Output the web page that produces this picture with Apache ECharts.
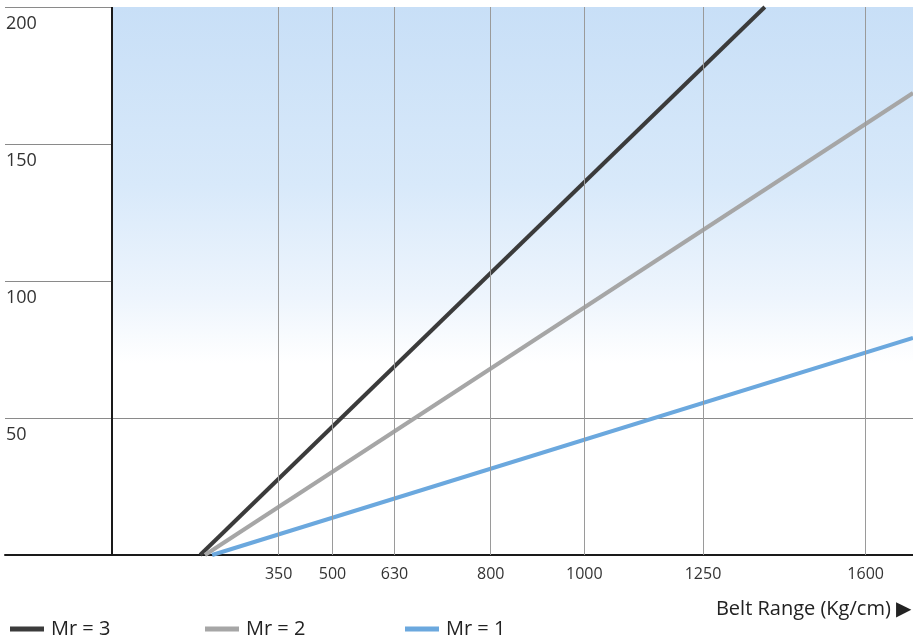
<!DOCTYPE html>
<html>
<head>
<meta charset="utf-8">
<style>
  html, body { margin: 0; padding: 0; background: #ffffff; }
  #chart { width: 913px; height: 637px; }
</style>
<script src="https://cdn.jsdelivr.net/npm/echarts@6/dist/echarts.min.js"></script>
</head>
<body>
<div id="chart"></div>
<script>
// Schematic x-axis: positions in arbitrary units (0 = vertical axis, 100 = right edge)
var xTickPositions = [20.81, 27.53, 35.27, 47.28, 58.96, 73.78, 94.09];
var xTickLabels = ['350', '500', '630', '800', '1000', '1250', '1600'];
var yTicks = [0, 50, 100, 150, 200];

var seriesNames = ['Mr = 3', 'Mr = 2', 'Mr = 1'];
var mr3 = [[11.0, 0], [81.5, 200]];
var mr2 = [[11.6, 0], [100, 168.6]];
var mr1 = [[12.5, 0], [100, 79.2]];

var FONT = '"Open Sans", "Noto Sans", sans-serif';
var chart = echarts.init(document.getElementById('chart'), null, { renderer: 'canvas' });

function legendAt(name, left) {
  return {
    data: [name], left: left, top: 614, icon: 'rect', itemWidth: 34, itemHeight: 5,
    itemGap: 0, textStyle: { fontFamily: FONT, fontSize: 20, color: '#222', padding: [0, 0, 0, 2] },
    selectedMode: false
  };
}

var option = {
  backgroundColor: '#ffffff',
  animation: false,
  title: {
    text: 'Belt Range (Kg/cm) \u25B6\uFE0E',
    right: -3, top: 594,
    textStyle: { fontFamily: FONT, fontSize: 20, fontWeight: 'normal', color: '#222' }
  },
  legend: [legendAt(seriesNames[0], 5), legendAt(seriesNames[1], 200), legendAt(seriesNames[2], 400)],
  grid: { left: 5, right: 0, top: 7, bottom: 82, containLabel: false },
  xAxis: {
    type: 'value', min: -13.36, max: 100,
    axisLine: { show: true, onZero: true, lineStyle: { color: '#1a1a1a', width: 2 } },
    axisTick: { show: false },
    splitLine: { show: false },
    axisLabel: {
      customValues: xTickPositions,
      margin: 11,
      fontFamily: FONT, fontSize: 16, color: '#333',
      formatter: function (v) {
        for (var i = 0; i < xTickPositions.length; i++) {
          if (Math.abs(xTickPositions[i] - v) < 1e-6) return xTickLabels[i];
        }
        return '';
      }
    }
  },
  yAxis: {
    type: 'value', min: 0, max: 200, interval: 50,
    axisLine: { show: false }, axisTick: { show: false },
    splitLine: { show: true, lineStyle: { color: '#8a8a8a', width: 1 } },
    axisLabel: {
      inside: true, margin: 1, verticalAlign: 'top', padding: [8, 0, 0, 0],
      fontFamily: FONT, fontSize: 18, color: '#333',
      formatter: function (v) { return v === yTicks[0] ? '' : String(v); }
    }
  },
  series: [
    {
      name: 'bg', type: 'line', z: -1, data: [], silent: true, showSymbol: false,
      markArea: {
        silent: true,
        itemStyle: {
          color: {
            type: 'linear', x: 0, y: 0, x2: 0, y2: 1,
            colorStops: [
              { offset: 0, color: '#c8dff7' },
              { offset: 0.5, color: '#d8e9fa' },
              { offset: 0.82, color: '#eef5fd' },
              { offset: 1, color: '#ffffff' }
            ]
          }
        },
        data: [[{ xAxis: 0, yAxis: 70 }, { xAxis: 100, yAxis: 200 }]]
      }
    },
    {
      name: 'vgrid', type: 'line', z: 1, data: [], silent: true, showSymbol: false,
      markLine: {
        silent: true, symbol: ['none', 'none'], label: { show: false },
        lineStyle: { color: '#9a9a9a', width: 1, type: 'solid' },
        data: xTickPositions.map(function (p) { return { xAxis: p }; }).concat([
          { xAxis: 0, lineStyle: { color: '#1a1a1a', width: 2, type: 'solid' } }
        ])
      }
    },
    { name: seriesNames[0], type: 'line', z: 3, data: mr3, showSymbol: false, color: '#3b3b3b', lineStyle: { width: 4, color: '#3b3b3b' } },
    { name: seriesNames[1], type: 'line', z: 3, data: mr2, showSymbol: false, color: '#a6a6a6', lineStyle: { width: 4, color: '#a6a6a6' } },
    { name: seriesNames[2], type: 'line', z: 3, data: mr1, showSymbol: false, color: '#6ba8de', lineStyle: { width: 4, color: '#6ba8de' } }
  ]
};
chart.setOption(option);
</script>
</body>
</html>
